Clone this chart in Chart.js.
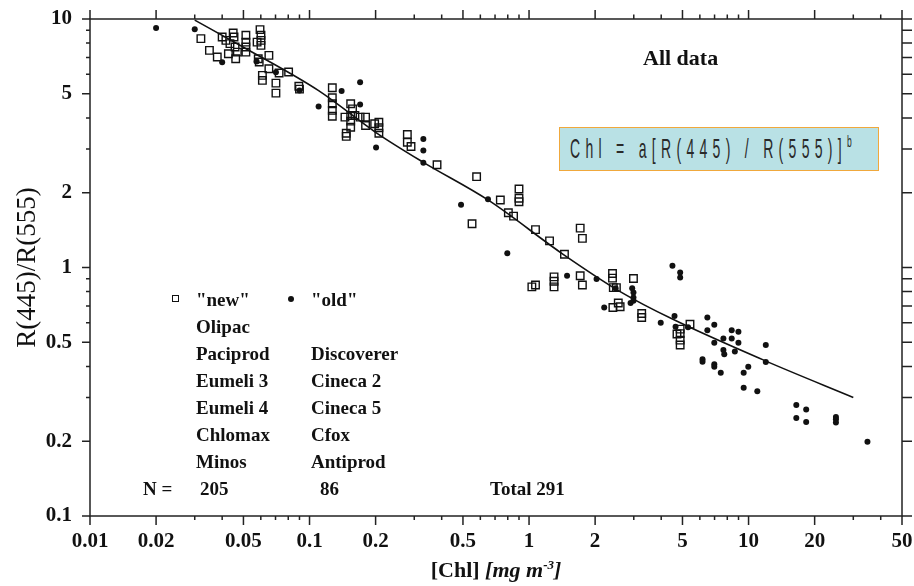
<!DOCTYPE html>
<html>
<head>
<meta charset="utf-8">
<script src="https://cdn.jsdelivr.net/npm/chart.js@4.4.1/dist/chart.umd.min.js"></script>
<style>
  html, body { margin: 0; padding: 0; background: #fff; overflow: hidden; }
  #wrap { position: relative; width: 914px; height: 586px; font-family: 'Liberation Serif', 'Times New Roman', serif; color: #111; }
  #wrap canvas { position: absolute; left: 0; top: 0; }
  .note { position: absolute; font-weight: bold; font-size: 19px; line-height: 22px; white-space: nowrap; }
  .mk-sq { position: absolute; width: 5px; height: 5px; border: 1.5px solid #111; }
  .mk-dot { position: absolute; width: 6px; height: 6px; border-radius: 50%; background: #111; }
  #eqbox { position: absolute; left: 559px; top: 127px; width: 320px; height: 44px; box-sizing: border-box;
           background: #b9e1e5; border: 1.5px solid #f0a83c; }
  #eq { position: absolute; left: 570px; top: 133px; font-family: 'Liberation Sans', Arial, sans-serif; font-size: 28px;
        line-height: 32px; letter-spacing: 10.6px; color: #2a2a2a; white-space: nowrap; transform: scaleX(0.5); transform-origin: 0 0; }
  #eq .sup { font-size: 17px; position: relative; top: -11px; }
  #xtitle { position: absolute; left: 496px; top: 557px; transform: translateX(-50%); font-size: 22px; font-weight: bold;
            line-height: 26px; white-space: nowrap; }
  #xtitle i span { font-size: 13px; position: relative; top: -8px; }
</style>
</head>
<body>
<div id="wrap">
  <canvas id="chl"></canvas>
  <div class="note" style="left:643px; top:45px; font-size:22px; line-height:26px;">All data</div>
  <div id="eqbox"></div>
  <div id="eq">Chl = a[R(445) / R(555)]<span class="sup">b</span></div>
  <div id="xtitle">[Chl] <i>[mg m<span>-3</span>]</i></div>
</div>
<script>
// "new" data set (open squares)
const newChl = [0.032, 0.035, 0.038, 0.040, 0.0416, 0.0427, 0.0434, 0.0449, 0.0453, 0.0458, 0.0461, 0.0469,
  0.0513, 0.0513, 0.0513, 0.0513, 0.0577, 0.0584, 0.059, 0.0595, 0.0601, 0.0601, 0.0601, 0.061, 0.061,
  0.0653, 0.0653, 0.0703, 0.0703, 0.0727, 0.0803, 0.0894, 0.090,
  0.127, 0.127, 0.127, 0.127, 0.127, 0.154, 0.157, 0.145, 0.154, 0.161, 0.154, 0.154, 0.147, 0.147,
  0.170, 0.180, 0.180, 0.198, 0.207, 0.207, 0.207, 0.279, 0.279, 0.290, 0.381, 0.577,
  0.90, 0.90, 0.90, 0.74, 0.55, 0.805, 0.85, 1.07, 1.24, 1.45, 1.71, 1.75, 1.03, 1.07, 1.30, 1.30, 1.30,
  1.71, 1.75, 2.40, 2.40, 2.42, 2.50, 2.41, 2.55, 2.60, 2.99, 3.26, 3.26, 4.88, 4.88, 4.88, 4.88, 5.41, 4.72]
const newR = [8.34, 7.48, 7.03, 8.46, 8.20, 7.25, 7.96, 8.78, 8.46, 7.71, 6.92, 7.36,
  8.60, 8.07, 7.71, 7.36, 8.07, 6.92, 6.71, 9.06, 8.60, 8.20, 7.83, 5.93, 5.66,
  7.14, 6.31, 5.52, 5.03, 6.06, 6.12, 5.36, 5.22,
  5.29, 4.82, 4.56, 4.29, 4.06, 4.56, 4.35, 4.03, 4.09, 4.09, 3.88, 3.67, 3.47, 3.37,
  4.03, 4.03, 3.73, 3.79, 3.84, 3.65, 3.47, 3.43, 3.19, 3.07, 2.59, 2.32,
  2.07, 1.90, 1.84, 1.87, 1.50, 1.66, 1.61, 1.42, 1.28, 1.13, 1.44, 1.31, 0.836, 0.85, 0.917, 0.88, 0.836,
  0.926, 0.85, 0.946, 0.906, 0.83, 0.83, 0.69, 0.72, 0.695, 0.903, 0.653, 0.629, 0.565, 0.542, 0.51, 0.488, 0.591, 0.54]

// "old" data set (filled dots)
const oldChl = [0.020, 0.030, 0.040, 0.0574, 0.0703, 0.090, 0.110, 0.140, 0.170, 0.170, 0.201, 0.330, 0.330, 0.330,
  0.49, 0.65, 0.796, 1.49, 2.03, 2.20, 2.48, 2.95, 2.99, 2.99, 2.99, 2.90, 3.98, 4.50, 4.88, 4.88, 4.60, 4.65, 5.30,
  6.49, 6.49, 6.98, 6.98, 6.17, 6.17, 6.98, 6.98, 7.47, 7.68, 7.68, 7.75, 8.38, 8.38, 8.99, 8.99, 8.66, 9.97,
  9.50, 9.50, 10.96, 11.98, 11.98, 16.5, 16.5, 18.3, 18.3, 25.0, 25.0, 25.0, 34.8]
const oldR = [9.20, 9.10, 6.70, 6.75, 6.10, 5.15, 4.45, 5.13, 5.57, 4.53, 3.04, 3.29, 2.96, 2.64,
  1.79, 1.88, 1.14, 0.926, 0.898, 0.69, 0.826, 0.826, 0.794, 0.757, 0.734, 0.72, 0.60, 1.016, 0.955, 0.912, 0.638, 0.577, 0.575,
  0.629, 0.559, 0.588, 0.498, 0.427, 0.418, 0.408, 0.399, 0.377, 0.518, 0.466, 0.448, 0.559, 0.518, 0.551, 0.498, 0.459, 0.399,
  0.377, 0.328, 0.318, 0.488, 0.417, 0.280, 0.248, 0.268, 0.239, 0.250, 0.245, 0.238, 0.199]

// fitted curve
const fitChl = [0.03, 0.05, 0.11, 0.20, 0.33, 0.65, 1.43, 2.6, 4.5, 12, 30]
const fitR = [9.9, 7.7, 5.15, 3.5, 2.65, 1.87, 1.13, 0.80, 0.62, 0.42, 0.30]

// axis ticks (all marks) and the ones that get a label
const xTicks = [0.01, 0.02, 0.03, 0.04, 0.05, 0.06, 0.07, 0.08, 0.09, 0.1, 0.2, 0.3, 0.4, 0.5, 0.6, 0.7, 0.8, 0.9,
  1, 2, 3, 4, 5, 6, 7, 8, 9, 10, 20, 30, 40, 50]
const xLabels = ['0.01', '0.02', '0.05', '0.1', '0.2', '0.5', '1', '2', '5', '10', '20', '50']
const yTicks = [0.1, 0.2, 0.3, 0.4, 0.5, 0.6, 0.7, 0.8, 0.9, 1, 2, 3, 4, 5, 6, 7, 8, 9, 10]
const yLabels = ['0.1', '0.2', '0.5', '1', '2', '5', '10']

// legend block
const newSets = ['Olipac', 'Paciprod', 'Eumeli 3', 'Eumeli 4', 'Chlomax', 'Minos']
const oldSets = ['Discoverer', 'Cineca 2', 'Cineca 5', 'Cfox', 'Antiprod']
const counts = ['205', '86', 'Total 291']

const labelFor = (labels, v) => labels.find(l => Math.abs(parseFloat(l) - v) < v * 1e-6)
const pts = (xs, ys) => xs.map((x, i) => ({ x, y: ys[i] }))

const wrap = document.getElementById('wrap')
function note(text, left, cy) {
  const d = document.createElement('div')
  d.className = 'note'
  d.textContent = text
  d.style.left = left + 'px'
  d.style.top = (cy - 11) + 'px'
  wrap.appendChild(d)
}
const rowY = [300, 327, 354, 381, 408, 435, 462, 489]
note('"new"', 196, rowY[0])
note('"old"', 311, rowY[0])
newSets.forEach((s, i) => note(s, 196, rowY[i + 1]))
oldSets.forEach((s, i) => note(s, 311, rowY[i + 2]))
note('N =', 143, rowY[7])
note(counts[0], 200, rowY[7])
note(counts[1], 320, rowY[7])
note(counts[2], 490, rowY[7])
const sq = document.createElement('div'); sq.className = 'mk-sq'; sq.style.left = '172px'; sq.style.top = '295px'; wrap.appendChild(sq)
const dt = document.createElement('div'); dt.className = 'mk-dot'; dt.style.left = '288px'; dt.style.top = '296px'; wrap.appendChild(dt)

// frame on all four sides, with major / minor tick marks pointing outwards
const frameTicks = {
  id: 'frameTicks',
  afterDatasetsDraw(chart) {
    const { ctx, chartArea: a, scales: { x, y } } = chart
    ctx.save()
    ctx.strokeStyle = '#222'
    ctx.lineWidth = 1.5
    ctx.strokeRect(a.left, a.top, a.right - a.left, a.bottom - a.top)
    ctx.beginPath()
    xTicks.forEach(v => {
      const px = x.getPixelForValue(v)
      const major = !!labelFor(xLabels, v)
      ctx.moveTo(px, a.bottom); ctx.lineTo(px, a.bottom + (major ? 9 : 4))
      ctx.moveTo(px, a.top); ctx.lineTo(px, a.top - (major ? 9 : 4.5))
    })
    yTicks.forEach(v => {
      const py = y.getPixelForValue(v)
      const major = !!labelFor(yLabels, v)
      ctx.moveTo(a.left, py); ctx.lineTo(a.left - (major ? 8 : 4), py)
      ctx.moveTo(a.right, py); ctx.lineTo(a.right + 10, py)
    })
    ctx.stroke()
    ctx.restore()
  }
}

// fixed axis boxes, no extra room for overhanging end labels
function noOverhang(s) {
  s.paddingTop = 0; s.paddingBottom = 0; s.paddingLeft = 0; s.paddingRight = 0
}

Chart.defaults.font.family = "'Liberation Serif', 'Times New Roman', serif"
Chart.defaults.color = '#111'

new Chart(document.getElementById('chl'), {
  type: 'scatter',
  data: {
    datasets: [
      {
        label: 'fit',
        data: pts(fitChl, fitR),
        showLine: true,
        borderColor: '#111',
        borderWidth: 1.6,
        pointRadius: 0,
        cubicInterpolationMode: 'monotone',
        fill: false
      },
      {
        label: '"new"',
        data: pts(newChl, newR),
        pointStyle: 'rect',
        pointRadius: 5.3,
        borderColor: '#111',
        borderWidth: 1.4,
        backgroundColor: 'rgba(0,0,0,0)'
      },
      {
        label: '"old"',
        data: pts(oldChl, oldR),
        pointStyle: 'circle',
        pointRadius: 3,
        borderWidth: 0,
        backgroundColor: '#111'
      }
    ]
  },
  options: {
    responsive: true,
    maintainAspectRatio: false,
    animation: false,
    layout: { padding: { top: 19, right: 12, left: 0, bottom: 0 } },
    scales: {
      x: {
        type: 'logarithmic',
        min: 0.01,
        max: 50,
        afterBuildTicks: s => { s.ticks = xTicks.map(value => ({ value })) },
        afterFit: s => { s.height = 70; noOverhang(s) },
        grid: { display: false, drawTicks: false },
        border: { display: false },
        ticks: {
          autoSkip: false,
          maxRotation: 0,
          padding: 13,
          font: { size: 21, weight: 'bold' },
          callback: v => labelFor(xLabels, v) || ''
        }
      },
      y: {
        type: 'logarithmic',
        min: 0.1,
        max: 10,
        afterBuildTicks: s => { s.ticks = yTicks.map(value => ({ value })) },
        afterFit: s => { s.width = 90; noOverhang(s) },
        grid: { display: false, drawTicks: false },
        border: { display: false },
        title: {
          display: true,
          text: 'R(445)/R(555)',
          font: { size: 27 },
          padding: { top: 12, bottom: 0 }
        },
        ticks: {
          autoSkip: false,
          padding: 18,
          font: { size: 21, weight: 'bold' },
          callback: v => labelFor(yLabels, v) || ''
        }
      }
    },
    plugins: {
      legend: { display: false },
      tooltip: { enabled: false }
    }
  },
  plugins: [frameTicks]
})
</script>
</body>
</html>
